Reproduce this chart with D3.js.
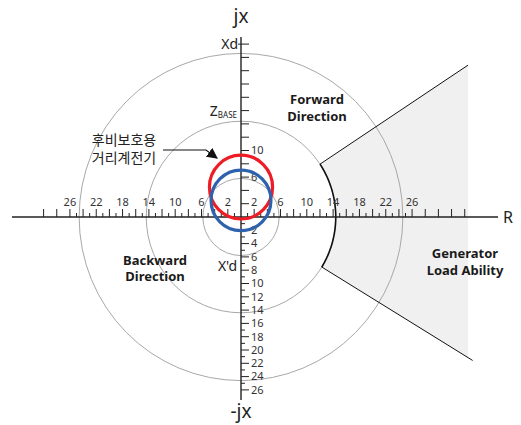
<!DOCTYPE html>
<html>
<head>
<meta charset="utf-8">
<script src="https://cdn.jsdelivr.net/npm/d3@7"></script>
<style>
  html, body { margin: 0; padding: 0; background: #fff; }
  svg { display: block; font-family: "Noto Sans", "Noto Sans CJK KR", sans-serif; }
</style>
</head>
<body>
<svg id="chart" width="521" height="425"></svg>
<script>
// Impedance-plane values (ohm units)
const xTickLabels = [-26, -22, -18, -14, -10, -6, -2, 2, 6, 10, 14, 18, 22, 26];
const yUpperLabels = [6, 10];                      // +2 shares its spot with the R-axis "2"
const yLowerLabels = [2, 4, 6, 8, 10, 12, 14, 16, 18, 20, 22, 24, 26];
const refCircleRadii = [5.8, 14.4, 24.6];          // X'd, ZBASE, Xd circles
const relayNames = ["backup", "offset"];
const relayCenters = [4.5, 2.5];                   // centre on jx axis
const relayRadii = [4.8, 4.55];
const relayColors = ["#ee1c24", "#2f62ad"];
const loadInnerRadius = 14.4;
const loadAngles = [33.5, -31.5];                  // degrees, upper / lower boundary
const loadRightLimit = 34.5;
const loadLowerLineEnd = 35.2;
const markerNames = ["Xd", "ZBASE", "X'd"];
const markerValues = [26, 16, -7.4];

const svg = d3.select("#chart");
const x = d3.scaleLinear().domain([-35, 35]).range([241 - 35 * 6.58, 241 + 35 * 6.58]);
const y = d3.scaleLinear().domain([-30, 30]).range([217 + 30 * 6.65, 217 - 30 * 6.65]);
const toRad = d => d * Math.PI / 180;

// Generator load ability region
const a0 = toRad(loadAngles[0]), a1 = toRad(loadAngles[1]);
const regionPts = [];
regionPts.push([loadInnerRadius * Math.cos(a0), loadInnerRadius * Math.sin(a0)]);
regionPts.push([loadRightLimit, loadRightLimit * Math.tan(a0)]);
regionPts.push([loadRightLimit, loadRightLimit * Math.tan(a1)]);
regionPts.push([loadInnerRadius * Math.cos(a1), loadInnerRadius * Math.sin(a1)]);
const arcPts = d3.range(0, 61).map(i => {
  const t = a1 + (a0 - a1) * i / 60;
  return [loadInnerRadius * Math.cos(t), loadInnerRadius * Math.sin(t)];
});
const line = d3.line().x(d => x(d[0])).y(d => y(d[1]));
svg.append("path")
  .attr("d", line(regionPts.concat(arcPts)) + "Z")
  .attr("fill", "#f0f0f0").attr("stroke", "none");

// Reference circles
svg.selectAll("ellipse.ref").data(refCircleRadii).join("ellipse")
  .attr("class", "ref")
  .attr("cx", x(0)).attr("cy", y(0))
  .attr("rx", d => x(d) - x(0)).attr("ry", d => y(0) - y(d))
  .attr("fill", "none").attr("stroke", "#a8a8a8").attr("stroke-width", 1);

// Region boundary: arc and radial lines
svg.append("path").attr("d", line(arcPts))
  .attr("fill", "none").attr("stroke", "#111").attr("stroke-width", 1.6);
svg.append("path").attr("d", line([regionPts[0], regionPts[1]]))
  .attr("fill", "none").attr("stroke", "#111").attr("stroke-width", 1);
svg.append("path").attr("d", line([regionPts[3], [loadLowerLineEnd, loadLowerLineEnd * Math.tan(a1)]]))
  .attr("fill", "none").attr("stroke", "#111").attr("stroke-width", 1);

// Axes
const axisColor = "#222";
svg.append("line").attr("x1", 12).attr("x2", 498).attr("y1", y(0)).attr("y2", y(0))
  .attr("stroke", axisColor).attr("stroke-width", 1.4);
svg.append("line").attr("x1", x(0)).attr("x2", x(0)).attr("y1", 37).attr("y2", 400)
  .attr("stroke", axisColor).attr("stroke-width", 1.4);

// R-axis ticks
const xTicks = d3.range(-30, 35).filter(v => v !== 0 && (Math.abs(v) <= 25 || v % 2 === 0));
svg.selectAll("line.xt").data(xTicks).join("line")
  .attr("class", "xt")
  .attr("x1", d => x(d)).attr("x2", d => x(d))
  .attr("y1", y(0)).attr("y2", d => y(0) - (d % 2 === 0 ? 8 : 4))
  .attr("stroke", axisColor).attr("stroke-width", 1);
svg.selectAll("text.xl").data(xTickLabels).join("text")
  .attr("class", "xl")
  .attr("x", d => x(d)).attr("y", y(0) - 11)
  .attr("text-anchor", "middle").attr("font-size", 11).attr("fill", "#333")
  .text(d => Math.abs(d));

// jx-axis ticks (upper: every 2, lower: every 1)
const yUpperTicks = d3.range(2, 27, 2);
const yLowerTicks = d3.range(1, 27).map(v => -v);
svg.selectAll("line.yu").data(yUpperTicks).join("line")
  .attr("class", "yu")
  .attr("x1", x(0)).attr("x2", x(0) + 8)
  .attr("y1", d => y(d)).attr("y2", d => y(d))
  .attr("stroke", axisColor).attr("stroke-width", 1);
svg.selectAll("line.yl").data(yLowerTicks).join("line")
  .attr("class", "yl")
  .attr("x1", x(0)).attr("x2", d => x(0) + (d % 2 === 0 ? 8 : 4))
  .attr("y1", d => y(d)).attr("y2", d => y(d))
  .attr("stroke", axisColor).attr("stroke-width", 1);
svg.selectAll("text.yul").data(yUpperLabels).join("text")
  .attr("class", "yul")
  .attr("x", x(0) + 10).attr("y", d => y(d)).attr("dy", "0.35em")
  .attr("font-size", 11).attr("fill", "#333").text(d => d);
svg.selectAll("text.yll").data(yLowerLabels).join("text")
  .attr("class", "yll")
  .attr("x", x(0) + 10).attr("y", d => y(-d)).attr("dy", "0.35em")
  .attr("font-size", 11).attr("fill", "#333").text(d => d);

// Axis titles
svg.append("text").attr("x", x(0)).attr("y", 23).attr("text-anchor", "middle")
  .attr("font-size", 19).attr("fill", "#222").text("jx");
svg.append("text").attr("x", x(0)).attr("y", 418).attr("text-anchor", "middle")
  .attr("font-size", 19).attr("fill", "#222").text("-jx");
svg.append("text").attr("x", 503).attr("y", 223)
  .attr("font-size", 16).attr("fill", "#222").text("R");

// Reactance markers
svg.append("text").attr("x", x(0) - 3).attr("y", y(markerValues[0])).attr("dy", "0.35em")
  .attr("text-anchor", "end").attr("font-size", 14).attr("fill", "#222").text(markerNames[0]);
const zb = svg.append("text").attr("x", x(0) - 4).attr("y", y(markerValues[1])).attr("dy", "0.35em")
  .attr("text-anchor", "end").attr("font-size", 14).attr("fill", "#222");
zb.append("tspan").text("Z");
zb.append("tspan").attr("font-size", 8).attr("dy", "0.3em").text("BASE");
svg.append("line").attr("x1", x(0) - 3).attr("x2", x(0)).attr("y1", y(markerValues[0])).attr("y2", y(markerValues[0]))
  .attr("stroke", axisColor);
svg.append("text").attr("x", x(0) - 4).attr("y", y(markerValues[2])).attr("dy", "0.35em")
  .attr("text-anchor", "end").attr("font-size", 14).attr("fill", "#222").text(markerNames[2]);

// Relay characteristic circles
svg.selectAll("ellipse.relay").data(relayNames).join("ellipse")
  .attr("class", "relay")
  .attr("cx", x(0))
  .attr("cy", (d, i) => y(relayCenters[i]))
  .attr("rx", (d, i) => x(relayRadii[i]) - x(0))
  .attr("ry", (d, i) => y(0) - y(relayRadii[i]))
  .attr("fill", "none")
  .attr("stroke", (d, i) => relayColors[i])
  .attr("stroke-width", 3.2);

// Region labels
function twoLine(cx, cy1, lines, weight, size) {
  svg.selectAll(null).data(lines).join("text")
    .attr("x", cx).attr("y", (d, i) => cy1 + i * 16.5).attr("dy", "0.35em")
    .attr("text-anchor", "middle").attr("font-size", size).attr("font-weight", weight)
    .attr("fill", "#1a1a1a").text(d => d);
}
twoLine(317, 99.5, ["Forward", "Direction"], "bold", 13);
twoLine(155, 260, ["Backward", "Direction"], "bold", 13);
twoLine(465, 253.5, ["Generator", "Load Ability"], "bold", 13);

// Relay annotation with arrow
svg.append("defs").append("marker")
  .attr("id", "arrow").attr("viewBox", "0 0 10 10").attr("refX", 9).attr("refY", 5)
  .attr("markerWidth", 9).attr("markerHeight", 9).attr("orient", "auto")
  .append("path").attr("d", "M0,0 L10,5 L0,10 Z").attr("fill", "#111");
svg.append("polyline")
  .attr("points", "163,150 206,150 217,158")
  .attr("fill", "none").attr("stroke", "#111").attr("stroke-width", 1.2)
  .attr("marker-end", "url(#arrow)");
svg.selectAll(null).data(["후비보호용", "거리계전기"]).join("text")
  .attr("x", 124).attr("y", (d, i) => 140.5 + i * 18).attr("dy", "0.35em")
  .attr("text-anchor", "middle").attr("font-size", 14)
  .attr("font-family", "'Noto Sans CJK KR', sans-serif").attr("fill", "#222")
  .text(d => d);
</script>
</body>
</html>
